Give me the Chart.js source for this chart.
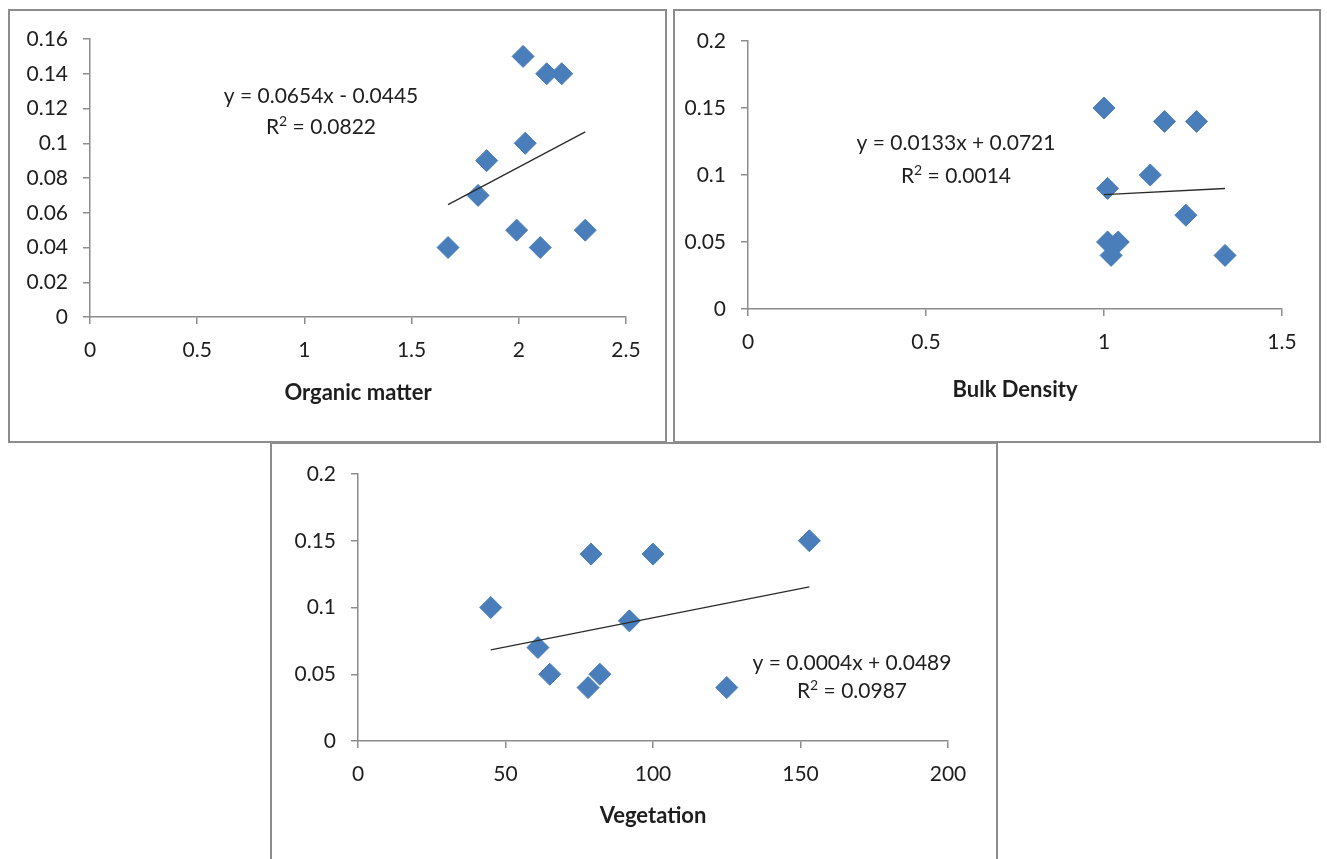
<!DOCTYPE html>
<html lang="en">
<head>
<meta charset="UTF-8">
<title>Scatter plots</title>
<style>
  html, body { margin: 0; padding: 0; background: #fff; overflow: hidden; }
  body { width: 1327px; height: 859px; position: relative; }
  .box { position: absolute; border: 2px solid #8c8c8c; box-sizing: border-box; background: #fff; }
  .box canvas { position: absolute; left: 0; top: 0; }
</style>
</head>
<body>
<div class="box" style="left:8px;top:9px;width:659px;height:434px;"><canvas id="chart1" width="655" height="430"></canvas></div>
<div class="box" style="left:673px;top:9px;width:648px;height:434px;"><canvas id="chart2" width="644" height="430"></canvas></div>
<div class="box" style="left:270px;top:442px;width:728px;height:440px;"><canvas id="chart3" width="724" height="436"></canvas></div>

<script src="https://cdn.jsdelivr.net/npm/chart.js"></script>
<script>
// organic matter
const omX = [1.67, 1.81, 1.85, 1.99, 2.02, 2.03, 2.10, 2.13, 2.20, 2.31];
const omY = [0.04, 0.07, 0.09, 0.05, 0.15, 0.10, 0.04, 0.14, 0.14, 0.05];
const omXTicks = ["0", "0.5", "1", "1.5", "2", "2.5"];
const omYTicks = ["0", "0.02", "0.04", "0.06", "0.08", "0.1", "0.12", "0.14", "0.16"];
const omEquation = ["y = 0.0654x - 0.0445", "R\u00b2 = 0.0822"];

// bulk density
const bdX = [1.00, 1.17, 1.26, 1.13, 1.01, 1.23, 1.01, 1.04, 1.02, 1.34];
const bdY = [0.15, 0.14, 0.14, 0.10, 0.09, 0.07, 0.05, 0.05, 0.04, 0.04];
const bdXTicks = ["0", "0.5", "1", "1.5"];
const bdYTicks = ["0", "0.05", "0.1", "0.15", "0.2"];
const bdEquation = ["y = 0.0133x + 0.0721", "R\u00b2 = 0.0014"];

// vegetation
const vegX = [45, 61, 65, 78, 79, 82, 92, 100, 125, 153];
const vegY = [0.10, 0.07, 0.05, 0.04, 0.14, 0.05, 0.09, 0.14, 0.04, 0.15];
const vegXTicks = ["0", "50", "100", "150", "200"];
const vegYTicks = ["0", "0.05", "0.1", "0.15", "0.2"];
const vegEquation = ["y = 0.0004x + 0.0489", "R\u00b2 = 0.0987"];

const FONT = "Lato, 'Open Sans', 'DejaVu Sans', sans-serif";
const TEXT = "#1e1e1e";
const AXIS = "#8c8c8c";
const MARKER = "#4a7ebb";

// least squares line, like excel's linear trendline
function fit(xs, ys) {
    const n = xs.length;
    const mx = xs.reduce((a, b) => a + b, 0) / n;
    const my = ys.reduce((a, b) => a + b, 0) / n;
    let sxy = 0, sxx = 0;
    for (let i = 0; i < n; i++) {
        sxy += (xs[i] - mx) * (ys[i] - my);
        sxx += (xs[i] - mx) * (xs[i] - mx);
    }
    const slope = sxy / sxx;
    return { slope: slope, intercept: my - slope * mx };
}

// draws the trendline equation; a "²" is drawn as a raised small 2
const equationPlugin = {
    id: "equation",
    afterDraw(chart, args, opts) {
        const ctx = chart.ctx;
        const area = chart.chartArea;
        const big = "21px " + FONT, small = "14px " + FONT;
        ctx.save();
        ctx.fillStyle = TEXT;
        ctx.textAlign = "left";
        ctx.textBaseline = "middle";
        opts.lines.forEach((line, i) => {
            const parts = line.split("\u00b2");
            ctx.font = big;
            let w = ctx.measureText(parts.join("")).width;
            ctx.font = small;
            if (parts.length > 1) w += ctx.measureText("2").width;
            let x = area.left + opts.pos[i][0] - w / 2;
            const y = area.top + opts.pos[i][1];
            parts.forEach((p, j) => {
                ctx.font = big;
                ctx.fillText(p, x, y);
                x += ctx.measureText(p).width;
                if (j < parts.length - 1) {
                    ctx.font = small;
                    ctx.fillText("2", x, y - 6);
                    x += ctx.measureText("2").width;
                }
            });
        });
        ctx.restore();
    }
};

function makeChart(id, xs, ys, xTicks, yTicks, title, equation, layout) {
    const f = fit(xs, ys);
    const lo = Math.min(...xs), hi = Math.max(...xs);
    const xVals = xTicks.map(Number);
    const yVals = yTicks.map(Number);

    return new Chart(document.getElementById(id), {
        type: "scatter",
        data: {
            datasets: [{
                // trendline drawn on top of the markers
                data: [{ x: lo, y: f.intercept + f.slope * lo }, { x: hi, y: f.intercept + f.slope * hi }],
                showLine: true,
                borderColor: "#2b2b2b",
                borderWidth: 1.3,
                pointRadius: 0,
                fill: false
            }, {
                data: xs.map((x, i) => ({ x: x, y: ys[i] })),
                pointStyle: "rectRot",
                pointRadius: 11,
                backgroundColor: MARKER,
                borderColor: MARKER,
                borderWidth: 1
            }]
        },
        options: {
            responsive: false,
            animation: false,
            layout: { padding: { left: 0, top: layout.top, right: layout.right, bottom: 0 } },
            plugins: {
                legend: { display: false },
                tooltip: { enabled: false },
                equation: { lines: equation, pos: layout.eq }
            },
            scales: {
                x: {
                    type: "linear",
                    min: xVals[0],
                    max: xVals[xVals.length - 1],
                    afterBuildTicks: s => { s.ticks = xVals.map(v => ({ value: v })); },
                    afterFit: s => { s.height = layout.xHeight; },
                    ticks: {
                        callback: (v) => xTicks[xVals.indexOf(v)],
                        color: TEXT,
                        font: { family: FONT, size: 21 },
                        padding: 14,
                        maxRotation: 0
                    },
                    grid: { drawOnChartArea: false, drawTicks: true, tickLength: 7, color: AXIS, lineWidth: 1.5 },
                    border: { color: AXIS, width: 1.5 },
                    title: {
                        display: true,
                        text: title,
                        color: TEXT,
                        font: { family: FONT, size: 22, weight: "bold" },
                        padding: { top: 0, bottom: layout.titlePad }
                    }
                },
                y: {
                    type: "linear",
                    min: yVals[0],
                    max: yVals[yVals.length - 1],
                    afterBuildTicks: s => { s.ticks = yVals.map(v => ({ value: v })); },
                    afterFit: s => { s.width = layout.yWidth; },
                    ticks: {
                        callback: (v) => yTicks[yVals.indexOf(v)],
                        color: TEXT,
                        font: { family: FONT, size: 21 },
                        padding: 15
                    },
                    grid: { drawOnChartArea: false, drawTicks: true, tickLength: 7, color: AXIS, lineWidth: 1.5 },
                    border: { color: AXIS, width: 1.5 }
                }
            }
        },
        plugins: [equationPlugin]
    });
}

makeChart("chart1", omX, omY, omXTicks, omYTicks, "Organic matter", omEquation,
    { top: 28, right: 39, yWidth: 80, xHeight: 124, titlePad: 35, eq: [[231, 57], [231, 88]] });
makeChart("chart2", bdX, bdY, bdXTicks, bdYTicks, "Bulk Density", bdEquation,
    { top: 30, right: 37, yWidth: 73, xHeight: 132, titlePad: 38, eq: [[208, 102], [208, 135]] });
makeChart("chart3", vegX, vegY, vegXTicks, vegYTicks, "Vegetation", vegEquation,
    { top: 30, right: 48, yWidth: 86, xHeight: 139, titlePad: 51, eq: [[494, 189], [494, 217]] });
</script>
</body>
</html>
